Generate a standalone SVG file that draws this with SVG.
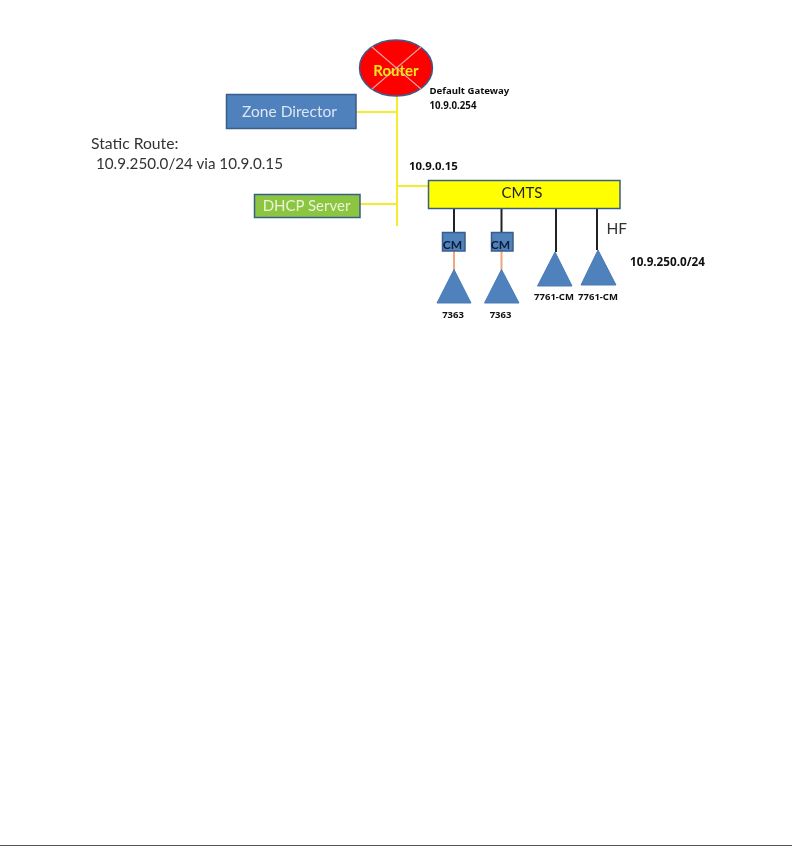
<svg xmlns="http://www.w3.org/2000/svg" width="792" height="846" viewBox="0 0 792 846">
<style>
.l{font-family:"Lato","Liberation Sans",sans-serif}
.b{font-family:"Noto Sans","Liberation Sans",sans-serif;font-weight:700;fill:#111}
.y{stroke:#f2ee2e;stroke-width:2;fill:none}
.k{stroke:#222;stroke-width:2;fill:none}
.o{stroke:#f0a878;stroke-width:2;fill:none}
.blue{fill:#4f81bd;stroke:#385d8a;stroke-width:1.5}
.tri{fill:#4f81bd;stroke:#4a7ab5;stroke-width:1}
.m{text-anchor:middle}
</style>
<defs>
<filter id="soft" filterUnits="userSpaceOnUse" x="0" y="0" width="792" height="846"><feGaussianBlur stdDeviation="0.45"/></filter>
</defs>
<rect width="792" height="846" fill="#fff"/>
<g filter="url(#soft)">
<g id="connectors">
<path class="y" d="M397 96V226M356 112H397M397 186H429M360 204H397"/>
<path class="k" d="M454 208V232M501.500 208V232M556 208V252M597 208V250"/>
<path class="o" d="M454 251V270M501.500 251V270"/>
</g>
<g id="router">
<ellipse cx="396" cy="68" rx="36.500" ry="28" fill="#fe0000" stroke="#385d8a" stroke-width="1.500"/>
<path d="M372 47L421 89M421 47L372 89" stroke="#e8a0a0" stroke-width="1.200" fill="none"/>
<text class="l m" x="396" y="76" font-size="15" font-weight="700" fill="#f5e61e">Router</text>
</g>
<g id="zone-director">
<rect class="blue" x="226.500" y="94.500" width="129.500" height="34"/>
<text class="l m" x="289.500" y="116.500" font-size="15.500" fill="#dce6f2">Zone Director</text>
</g>
<g id="dhcp-server">
<rect x="254.500" y="194.500" width="105.500" height="23" fill="#8cc63f" stroke="#385d8a" stroke-width="1.500"/>
<text class="l m" x="306.500" y="210.500" font-size="15" fill="#eaf3dc">DHCP Server</text>
</g>
<g id="cmts">
<rect x="428.500" y="180.500" width="191.500" height="28" fill="#ffff00" stroke="#385d8a" stroke-width="1.500"/>
<text class="l m" x="522" y="198" font-size="15" fill="#222">CMTS</text>
</g>
<g id="cm-1">
<rect class="blue" x="442.500" y="232.500" width="22.500" height="18.500"/>
<text class="l m" x="452.500" y="248.500" font-size="12" font-weight="700" fill="#0d1a2e">CM</text>
</g>
<g id="cm-2">
<rect class="blue" x="491.500" y="232.500" width="21.500" height="18.500"/>
<text class="l m" x="500.500" y="248.500" font-size="12" font-weight="700" fill="#0d1a2e">CM</text>
</g>
<g id="ap-7363-1">
<polygon class="tri" points="454,269.500 471,303 437,303"/>
<text class="b m" x="453" y="317.500" font-size="9.500">7363</text>
</g>
<g id="ap-7363-2">
<polygon class="tri" points="501.500,269.500 519,303 484.500,303"/>
<text class="b m" x="500.500" y="317.500" font-size="9.500">7363</text>
</g>
<g id="ap-7761-1">
<polygon class="tri" points="555,252 572,286 537.500,286"/>
<text class="b m" x="554" y="299.500" font-size="9.500">7761-CM</text>
</g>
<g id="ap-7761-2">
<polygon class="tri" points="598,250 616,285 581,285"/>
<text class="b m" x="598" y="299.500" font-size="9.500">7761-CM</text>
</g>
<g id="labels">
<text class="l" x="91" y="148.500" font-size="15.700" fill="#333">Static Route:</text>
<text class="l" x="96" y="169" font-size="15.200" fill="#333">10.9.250.0/24 via 10.9.0.15</text>
<text class="b" x="429.500" y="94" font-size="9.600">Default Gateway</text>
<text class="b" x="429.500" y="108.500" font-size="9.700">10.9.0.254</text>
<text class="b" x="409" y="169.500" font-size="11.400">10.9.0.15</text>
<text class="l" x="606.500" y="234" font-size="15.500" fill="#333">HF</text>
<text class="b" x="630" y="266" font-size="11.700">10.9.250.0/24</text>
</g>
</g>
<rect id="page-edge" x="0" y="845" width="792" height="1" fill="#555"/>
</svg>
